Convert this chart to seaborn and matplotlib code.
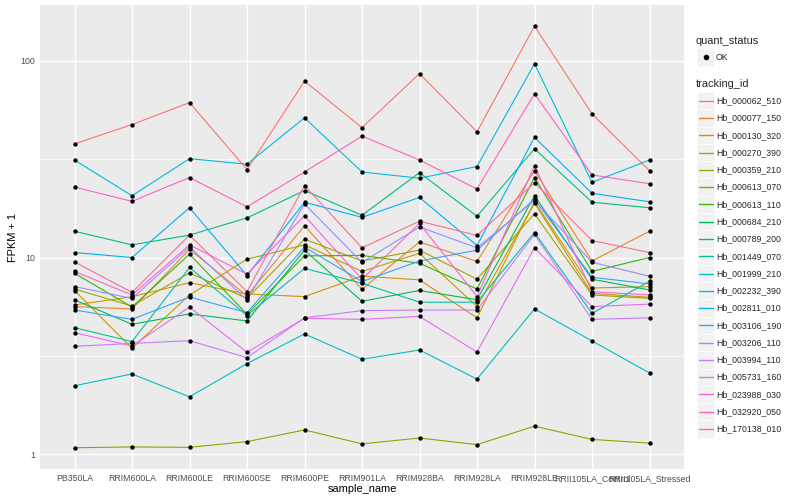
import matplotlib
matplotlib.use("Agg")
import matplotlib.pyplot as plt
import pandas as pd
import seaborn as sns
from matplotlib.lines import Line2D
from matplotlib.patches import Rectangle
from matplotlib.ticker import FixedLocator, NullFormatter


SAMPLES = [
    "PB350LA", "RRIM600LA", "RRIM600LE", "RRIM600SE", "RRIM600PE", "RRIM901LA",
    "RRIM928BA", "RRIM928LA", "RRIM928LE", "RRII105LA_Control", "RRII105LA_Stressed",
]

TRACKING_IDS = [
    "Hb_000062_510", "Hb_000077_150", "Hb_000130_320", "Hb_000270_390",
    "Hb_000359_210", "Hb_000613_070", "Hb_000613_110", "Hb_000684_210",
    "Hb_000789_200", "Hb_001449_070", "Hb_001999_210", "Hb_002232_390",
    "Hb_002811_010", "Hb_003106_190", "Hb_003206_110", "Hb_003994_110",
    "Hb_005731_160", "Hb_023988_030", "Hb_032920_050", "Hb_170138_010",
]

# ggplot default hue palette for 20 levels
HUE_COLORS = [
    "#F8766D", "#EA8331", "#D89000", "#C09B00", "#A3A500", "#7CAE00", "#39B600",
    "#00BB4E", "#00BF7D", "#00C1A3", "#00BFC4", "#00BAE0", "#00B0F6", "#35A2FF",
    "#9590FF", "#C77CFF", "#E76BF3", "#FA62DB", "#FF62BC", "#FF6C91",
]

# FPKM per gene, in SAMPLES order
fpkm_000062_510 = [36.8, 46.4, 60.3, 27.0, 77.8, 44.7, 85.0, 42.5, 149.0, 52.7, 26.6]
fpkm_000077_150 = [4.63, 4.48, 10.0, 5.38, 13.5, 5.9, 11.0, 8.55, 26.6, 8.6, 12.6]
fpkm_000130_320 = [4.74, 5.32, 6.45, 5.53, 5.33, 7.05, 6.7, 3.94, 18.2, 6.0, 6.11]
fpkm_000270_390 = [5.79, 2.46, 5.45, 8.8, 10.6, 7.5, 9.5, 4.63, 17.9, 5.57, 5.28]
fpkm_000359_210 = [5.92, 4.67, 7.35, 5.2, 11.4, 8.6, 9.9, 6.76, 15.7, 5.45, 5.2]
fpkm_000613_070 = [0.08, 0.09, 0.085, 0.16, 0.33, 0.13, 0.21, 0.12, 0.39, 0.19, 0.14]
fpkm_000613_110 = [7.32, 4.6, 9.4, 4.15, 9.2, 9.25, 8.35, 5.92, 24.5, 7.5, 9.0]
fpkm_000684_210 = [5.09, 3.58, 4.17, 3.76, 9.9, 4.99, 5.8, 5.1, 19.6, 6.76, 5.84]
fpkm_000789_200 = [12.6, 10.6, 12.0, 14.9, 20.9, 15.4, 26.0, 15.2, 34.7, 18.1, 16.9]
fpkm_001449_070 = [3.4, 2.74, 7.9, 4.07, 7.8, 6.4, 4.93, 4.93, 12.4, 4.2, 6.57]
fpkm_001999_210 = [1.23, 1.56, 0.96, 1.89, 3.09, 2.04, 2.39, 1.41, 4.48, 2.77, 1.59]
fpkm_002232_390 = [30.3, 19.6, 30.8, 28.8, 50.3, 26.2, 24.3, 28.0, 95.5, 23.1, 30.3]
fpkm_002811_010 = [9.6, 9.0, 16.9, 7.1, 18.1, 15.0, 19.2, 10.5, 39.8, 20.2, 18.2]
fpkm_003106_190 = [4.41, 3.85, 5.3, 4.25, 10.3, 6.55, 8.6, 9.9, 18.8, 6.94, 6.34]
fpkm_003206_110 = [6.12, 5.2, 10.3, 5.09, 17.7, 8.46, 13.3, 10.2, 18.5, 8.46, 7.03]
fpkm_003994_110 = [2.54, 2.66, 2.78, 2.1, 3.94, 4.37, 4.41, 4.41, 12.1, 3.85, 3.94]
fpkm_005731_160 = [3.15, 2.55, 4.6, 2.3, 3.91, 3.85, 4.02, 2.31, 10.2, 4.63, 4.8]
fpkm_023988_030 = [7.5, 5.45, 10.6, 7.23, 15.3, 6.75, 13.9, 5.33, 28.3, 5.7, 5.45]
fpkm_032920_050 = [21.8, 18.3, 24.5, 17.1, 26.2, 40.4, 30.3, 21.3, 66.9, 25.3, 22.7]
fpkm_170138_010 = [8.5, 5.65, 12.0, 5.71, 22.2, 10.2, 14.3, 11.95, 23.0, 11.2, 9.6]

FPKM_SERIES = [
    fpkm_000062_510, fpkm_000077_150, fpkm_000130_320, fpkm_000270_390,
    fpkm_000359_210, fpkm_000613_070, fpkm_000613_110, fpkm_000684_210,
    fpkm_000789_200, fpkm_001449_070, fpkm_001999_210, fpkm_002232_390,
    fpkm_002811_010, fpkm_003106_190, fpkm_003206_110, fpkm_003994_110,
    fpkm_005731_160, fpkm_023988_030, fpkm_032920_050, fpkm_170138_010,
]

W, H = 800, 500


def fig_xy(x, y):
    return x / W, 1 - y / H


def main():
    rows = []
    for gene, values in zip(TRACKING_IDS, FPKM_SERIES):
        for i, (sample, v) in enumerate(zip(SAMPLES, values)):
            rows.append({"tracking_id": gene, "sample_name": sample, "pos": i,
                         "fpkm_plus1": v + 1, "quant_status": "OK"})
    df = pd.DataFrame(rows)

    sns.set_theme(style="darkgrid", rc={
        "axes.facecolor": "#EBEBEB",
        "grid.color": "white",
        "figure.facecolor": "white",
    })
    plt.rcParams["font.family"] = ["Liberation Sans", "DejaVu Sans"]

    fig = plt.figure(figsize=(8, 5), dpi=100)
    ax = fig.add_axes([40 / W, 1 - 469 / H, 644 / W, 464 / H])

    sns.lineplot(data=df, x="pos", y="fpkm_plus1", hue="tracking_id",
                 hue_order=TRACKING_IDS, palette=HUE_COLORS, linewidth=0.8,
                 errorbar=None, legend=False, ax=ax, zorder=2)
    sns.scatterplot(data=df, x="pos", y="fpkm_plus1", color="black", s=10,
                    linewidth=0, legend=False, ax=ax, zorder=3)

    ax.set_yscale("log")
    ax.set_ylim(0.842, 192)
    ax.set_xlim(-0.6, len(SAMPLES) - 0.4)
    ax.set_yticks([1, 10, 100])
    ax.set_yticklabels(["1", "10", "100"])
    ax.yaxis.set_minor_locator(FixedLocator([10 ** 0.5, 10 ** 1.5]))
    ax.yaxis.set_minor_formatter(NullFormatter())
    ax.set_xticks(range(len(SAMPLES)))
    ax.set_xticklabels(SAMPLES)

    ax.grid(which="major", color="white", linewidth=1.0)
    ax.grid(which="minor", axis="y", color="white", linewidth=0.5)
    ax.set_axisbelow(True)
    for spine in ax.spines.values():
        spine.set_visible(False)
    ax.tick_params(which="major", length=2, width=0.7, color="#333333",
                   labelcolor="#4D4D4D", labelsize=6.3, pad=1.5)
    ax.tick_params(which="minor", length=0)

    ax.set_xlabel("sample_name", fontsize=7.9, color="black", labelpad=1)
    ax.set_ylabel("FPKM + 1", fontsize=7.9, color="black", labelpad=2)

    # legends drawn by hand, ggplot style
    key = 17.28
    kx = 697
    tx, ty = fig_xy(696, 40.7)
    fig.text(tx, ty, "quant_status", fontsize=7.9, va="center", ha="left")
    cy = 57
    fig.add_artist(Rectangle(fig_xy(kx, cy + key / 2), key / W, key / H,
                             transform=fig.transFigure, facecolor="#F2F2F2",
                             edgecolor="white", linewidth=0.5, zorder=1))
    px, py = fig_xy(kx + key / 2, cy)
    fig.add_artist(Line2D([px], [py], marker="o", markersize=3, color="black",
                          linestyle="none", transform=fig.transFigure, zorder=3))
    lx, ly = fig_xy(716, cy)
    fig.text(lx, ly, "OK", fontsize=6.3, va="center", ha="left")

    tx, ty = fig_xy(696, 84.3)
    fig.text(tx, ty, "tracking_id", fontsize=7.9, va="center", ha="left")
    for i, (gene, color) in enumerate(zip(TRACKING_IDS, HUE_COLORS)):
        cy = 100.7 + i * key
        fig.add_artist(Rectangle(fig_xy(kx, cy + key / 2), key / W, key / H,
                                 transform=fig.transFigure, facecolor="#F2F2F2",
                                 edgecolor="white", linewidth=0.5, zorder=1))
        x0, y0 = fig_xy(kx + 1.7, cy)
        x1, _ = fig_xy(kx + key - 1.7, cy)
        fig.add_artist(Line2D([x0, x1], [y0, y0], color=color, linewidth=1.0,
                              transform=fig.transFigure, zorder=3))
        lx, ly = fig_xy(716, cy)
        fig.text(lx, ly, gene, fontsize=6.3, va="center", ha="left")

    fig.savefig("out.png", dpi=100)


if __name__ == "__main__":
    main()
